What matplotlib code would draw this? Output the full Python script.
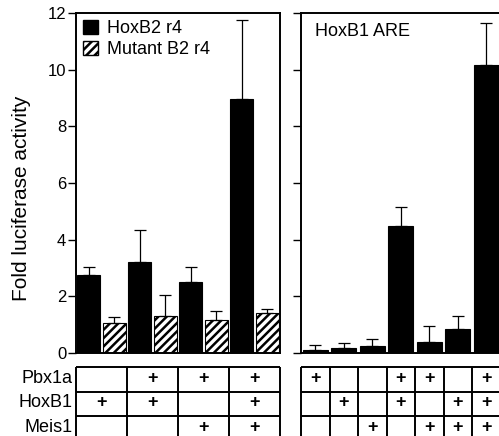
import matplotlib
matplotlib.use('Agg')
import matplotlib.pyplot as plt
from matplotlib.patches import Patch

plt.rcParams['font.family'] = ['Liberation Sans', 'DejaVu Sans']
plt.rcParams['hatch.linewidth'] = 1.8

# ---- data ----
left_series = ['HoxB2 r4', 'Mutant B2 r4']
left_values = [2.75, 1.05, 3.2, 1.3, 2.5, 1.15, 8.95, 1.4]
left_errors = [0.3, 0.22, 1.15, 0.75, 0.55, 0.32, 2.8, 0.17]
left_kind = [0, 1, 0, 1, 0, 1, 0, 1]  # 0 = HoxB2 r4, 1 = Mutant B2 r4

right_title = 'HoxB1 ARE'
right_values = [0.1, 0.17, 0.23, 4.47, 0.38, 0.85, 10.15]
right_errors = [0.2, 0.2, 0.27, 0.68, 0.57, 0.45, 1.5]

yticks = [0, 2, 4, 6, 8, 10, 12]
ylabel = 'Fold luciferase activity'
row_labels = ['Pbx1a', 'HoxB1', 'Meis1']
left_table = [[0, 1, 1, 1],
              [1, 1, 0, 1],
              [0, 0, 1, 1]]
right_table = [[1, 0, 0, 1, 1, 0, 1],
               [0, 1, 0, 1, 0, 1, 1],
               [0, 0, 1, 0, 1, 1, 1]]

W, H = 499, 436
fig = plt.figure(figsize=(W / 100, H / 100), dpi=100)

ax1 = fig.add_axes([76 / W, 83 / H, 204 / W, 340 / H])
ax2 = fig.add_axes([301 / W, 83 / H, 198 / W, 340 / H])

spine_lw = 1.4
err_kw = dict(fmt='none', ecolor='black', elinewidth=0.9, capsize=4.3, capthick=0.9)

# left panel
for i, (v, e, k) in enumerate(zip(left_values, left_errors, left_kind)):
    if k == 0:
        ax1.bar(i, v, width=0.9, color='black', edgecolor='black', linewidth=0.8, zorder=2)
    else:
        ax1.bar(i, v, width=0.9, color='white', edgecolor='black', hatch='////', linewidth=0.8, zorder=2)
    ax1.errorbar(i, v, yerr=[[0], [e]], zorder=3, **err_kw)
ax1.set_xlim(-0.5, len(left_values) - 0.5)
ax1.set_ylim(0, 12)
ax1.set_yticks(yticks)
ax1.set_xticks([])
ax1.tick_params(axis='y', direction='out', length=6, width=1, labelsize=12, pad=1)
for s in ax1.spines.values():
    s.set_linewidth(spine_lw)

handles = [Patch(facecolor='black', edgecolor='black'),
           Patch(facecolor='white', edgecolor='black', hatch='////')]
ax1.legend(handles, left_series, loc='upper left', frameon=False, fontsize=13,
           handlelength=0.8, handleheight=0.8, handletextpad=0.5,
           borderpad=0.1, borderaxespad=0.3, labelspacing=0.2)

# right panel
for i, (v, e) in enumerate(zip(right_values, right_errors)):
    ax2.bar(i, v, width=0.88, color='black', edgecolor='black', linewidth=0.8, zorder=2)
    ax2.errorbar(i, v, yerr=[[0], [e]], zorder=3, **err_kw)
ax2.set_xlim(-0.5, -0.5 + 198 / 28.5)
ax2.set_ylim(0, 12)
ax2.set_yticks(yticks)
ax2.set_yticklabels([])
ax2.set_xticks([])
ax2.tick_params(axis='y', direction='out', length=6, width=1)
ax2.spines['right'].set_visible(False)
for s in ax2.spines.values():
    s.set_linewidth(spine_lw)
ax2.annotate(right_title, xy=(0, 1), xycoords='axes fraction', xytext=(10, -13.5),
             textcoords='offset points', ha='left', va='center', fontsize=13)

fig.text(22 / W, 1 - 198 / H, ylabel, rotation=90, ha='center', va='center', fontsize=15)

# tables
row_h = 24.7
tab_h = 69


def draw_table(ax_ref, rect, table, col_edges, col_centers):
    t = fig.add_axes(rect)
    t.set_xlim(ax_ref.get_xlim())
    t.set_ylim(tab_h / row_h, 0)
    t.axis('off')
    x0, x1 = col_edges[0], col_edges[-1]
    for r in range(len(table) + 1):
        t.plot([x0, x1], [r, r], color='black', lw=spine_lw, clip_on=False,
               solid_capstyle='butt')
    for x in col_edges:
        t.plot([x, x], [0, len(table)], color='black', lw=spine_lw, clip_on=False,
               solid_capstyle='butt')
    for r, row in enumerate(table):
        for c, val in enumerate(row):
            if val:
                t.text(col_centers[c], r + 0.45, '+', ha='center', va='center',
                       fontsize=13, fontweight='bold')
    return t


n_left = len(left_table[0])
left_edges = [-0.5 + 2 * c for c in range(n_left + 1)]
left_centers = [0.5 + 2 * c for c in range(n_left)]
tab1 = draw_table(ax1, [76 / W, 0, 204 / W, tab_h / H], left_table, left_edges, left_centers)

n_right = len(right_table[0])
right_edges = [-0.5 + c for c in range(n_right + 1)]
right_centers = [c for c in range(n_right)]
draw_table(ax2, [301 / W, 0, 198 / W, tab_h / H], right_table, right_edges, right_centers)

for r, lab in enumerate(row_labels):
    tab1.annotate(lab, xy=(0, r + 0.45), xycoords=('axes fraction', 'data'),
                  xytext=(-2.5, 0), textcoords='offset points', ha='right', va='center',
                  fontsize=13, annotation_clip=False)

fig.savefig('out.png', dpi=100)
